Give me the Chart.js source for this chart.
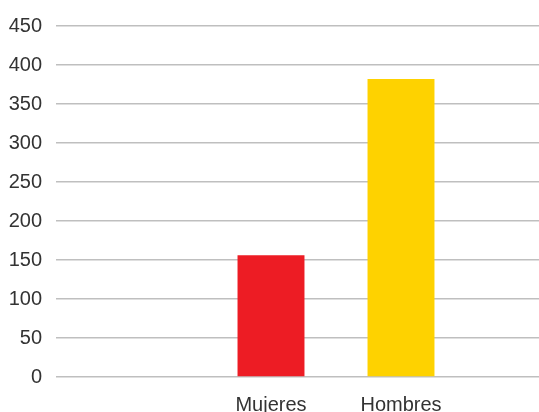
<!DOCTYPE html>
<html>
<head>
<meta charset="utf-8">
<script src="https://cdn.jsdelivr.net/npm/chart.js@4"></script>
<style>
  html, body { margin: 0; padding: 0; background: #fff; overflow: hidden; }
  #wrap { width: 600px; height: 412px; }
</style>
</head>
<body>
<div id="wrap"><canvas id="myChart" width="600" height="412"></canvas></div>
<script>
// categories (first and last slot are empty, the picture is cropped on the right)
const categories = ['', 'Mujeres', 'Hombres', '']
const values = [null, 156, 382, null]
const barColors = ['#ED1C24', '#ED1C24', '#FED200', '#FED200']
const yMin = 0
const yMax = 450
const yStep = 50

const fontFamily = "'Liberation Sans', Arial, sans-serif"

window.addEventListener('DOMContentLoaded', () => {
    let ctx = document.getElementById('myChart')
    let cfg = {
        type: 'bar',
        data: {
            labels: categories,
            datasets: [
                {
                    data: values,
                    backgroundColor: barColors,
                    borderWidth: 0,
                    categoryPercentage: 1,
                    barPercentage: 0.515
                }
            ]
        },
        options: {
            responsive: false,
            animation: false,
            layout: {
                padding: { top: 25, right: 4, left: 0, bottom: 0 }
            },
            plugins: {
                legend: { display: false },
                tooltip: { enabled: false }
            },
            scales: {
                x: {
                    grid: { display: false, drawTicks: false },
                    border: { display: false },
                    ticks: {
                        color: '#333',
                        padding: 16,
                        font: { family: fontFamily, size: 20 }
                    },
                    afterFit: (scale) => { scale.height = 35 }
                },
                y: {
                    min: yMin,
                    max: yMax,
                    border: { display: false },
                    grid: {
                        color: '#bfbfbf',
                        lineWidth: 1.5,
                        tickLength: 20
                    },
                    ticks: {
                        stepSize: yStep,
                        color: '#333',
                        padding: 14,
                        font: { family: fontFamily, size: 20 }
                    },
                    afterFit: (scale) => { scale.width = 76 }
                }
            }
        }
    }
    new Chart(ctx, cfg)
})
</script>
</body>
</html>
